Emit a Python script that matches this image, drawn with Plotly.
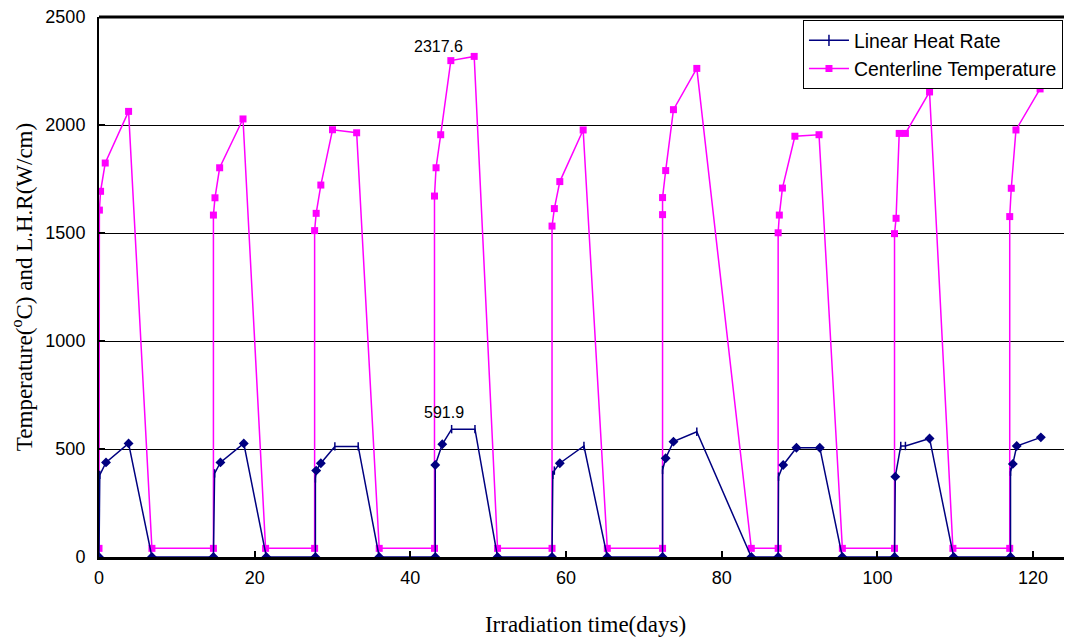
import plotly.graph_objects as go

# Centerline temperature (pink)
temp_days = [0, 0.05, 0.2, 0.8, 3.8, 6.8,
             14.7, 14.7, 14.9, 15.5, 18.5, 21.4,
             27.7, 27.7, 27.9, 28.5, 30.0, 33.1, 36.0,
             43.1, 43.1, 43.3, 43.9, 45.2, 48.2, 51.2,
             58.2, 58.2, 58.5, 59.2, 62.2, 65.3,
             72.4, 72.4, 72.4, 72.8, 73.8, 76.8, 83.8,
             87.25, 87.25, 87.4, 87.8, 89.4, 92.5, 95.5,
             102.2, 102.2, 102.4, 102.8, 103.6, 106.7, 109.7,
             117.0, 117.0, 117.2, 117.8, 120.9]
temp_vals = [40, 1606, 1693, 1824, 2063, 40,
             40, 1583, 1663, 1802, 2028, 40,
             40, 1511, 1591, 1722, 1978, 1964, 40,
             40, 1671, 1802, 1955, 2298, 2317.6, 40,
             40, 1532, 1613, 1738, 1977, 40,
             40, 1585, 1664, 1789, 2071, 2262, 40,
             40, 1501, 1583, 1708, 1948, 1955, 40,
             40, 1497, 1568, 1961, 1961, 2153, 40,
             40, 1576, 1707, 1977, 2167]

# Linear heat rate (navy)
lhr_days = [0, 0.1, 0.9, 3.8, 6.8,
            14.7, 14.85, 15.6, 18.6, 21.5,
            27.8, 27.8, 27.9, 28.5, 30.3, 33.3, 36.0,
            43.2, 43.2, 44.1, 45.3, 48.3, 51.2,
            58.2, 58.3, 58.5, 59.2, 62.3, 65.3,
            72.4, 72.4, 72.8, 73.8, 76.8, 83.8,
            87.25, 87.3, 87.9, 89.6, 92.6, 95.5,
            102.2, 102.3, 103.0, 103.6, 106.7, 109.8,
            117.1, 117.1, 117.4, 117.9, 121.0]
lhr_vals = [0, 380, 438, 526, 0,
            0, 387, 438, 526, 0,
            0, 364, 400, 434, 512, 512, 0,
            0, 426, 522, 591.9, 591.9, 0,
            0, 380, 400, 434, 514, 0,
            0, 403, 457, 534, 580, 0,
            0, 372, 426, 506, 506, 0,
            0, 372, 514, 514, 549, 0,
            0, 395, 431, 514, 554]
lhr_symbols = ["diamond", "line-ns", "diamond", "diamond", "diamond",
               "diamond", "line-ns", "diamond", "diamond", "diamond",
               "diamond", "line-ns", "diamond", "diamond", "line-ns", "line-ns", "diamond",
               "diamond", "diamond", "diamond", "line-ns", "line-ns", "diamond",
               "diamond", "line-ns", "line-ns", "diamond", "line-ns", "diamond",
               "diamond", "line-ns", "diamond", "diamond", "line-ns", "diamond",
               "diamond", "line-ns", "diamond", "diamond", "diamond", "diamond",
               "diamond", "diamond", "line-ns", "line-ns", "diamond", "diamond",
               "diamond", "line-ns", "diamond", "diamond", "diamond"]

x_ticks = [0, 20, 40, 60, 80, 100, 120]
y_ticks = [0, 500, 1000, 1500, 2000, 2500]

NAVY = "#000080"
PINK = "#FF00FF"
SANS = "Liberation Sans, Arial"
SERIF = "Liberation Serif, Times New Roman"

fig = go.Figure()

# legend entries
fig.add_trace(go.Scatter(x=[None], y=[None], mode="lines+markers", name="Linear Heat Rate",
                         line=dict(color=NAVY, width=1.5),
                         marker=dict(symbol="line-ns", size=8, line=dict(color=NAVY, width=1.5))))
fig.add_trace(go.Scatter(x=[None], y=[None], mode="lines+markers", name="Centerline Temperature",
                         line=dict(color=PINK, width=1.5),
                         marker=dict(symbol="square", size=7, color=PINK)))

fig.add_trace(go.Scatter(x=temp_days, y=temp_vals, mode="lines+markers", showlegend=False,
                         line=dict(color=PINK, width=1.5),
                         marker=dict(symbol="square", size=7, color=PINK)))
fig.add_trace(go.Scatter(x=lhr_days, y=lhr_vals, mode="lines+markers", showlegend=False,
                         line=dict(color=NAVY, width=1.5),
                         marker=dict(symbol=lhr_symbols, size=6, color=NAVY,
                                     line=dict(color=NAVY, width=1.5))))

fig.add_annotation(x=43.6, y=2362, text="2317.6", showarrow=False,
                   font=dict(family=SANS, size=16, color="black"))
fig.add_annotation(x=44.3, y=667, text="591.9", showarrow=False,
                   font=dict(family=SANS, size=16, color="black"))

# page body has an 8px margin: size the figure to fit the 1072x643 window
fig.update_layout(
    width=1064, height=635,
    margin=dict(l=91, r=0, t=9, b=86, autoexpand=False),
    paper_bgcolor="white", plot_bgcolor="white",
    font=dict(family=SANS, size=18, color="black"),
    legend=dict(x=0.7235, y=0.994, xanchor="left", yanchor="top",
                bgcolor="white", bordercolor="black", borderwidth=1,
                font=dict(family=SANS, size=19.4),
                tracegroupgap=0, itemwidth=40),
    xaxis=dict(range=[0, 125], tickvals=x_ticks, ticks="inside", ticklen=6, tickwidth=2,
               tickcolor="black", showline=True, linecolor="black", linewidth=3,
               showgrid=False, zeroline=False, mirror=False,
               tickfont=dict(family=SANS, size=18), ticklabelstandoff=2,
               ticklabeloverflow="allow",
               title=dict(text="Irradiation time(days)", standoff=30,
                          font=dict(family=SERIF, size=23))),
    yaxis=dict(range=[0, 2500], tickvals=y_ticks, ticks="inside", ticklen=6, tickwidth=2,
               tickcolor="black", showline=True, linecolor="black", linewidth=2,
               showgrid=True, gridcolor="black", gridwidth=1, zeroline=False,
               tickfont=dict(family=SANS, size=18), ticklabelstandoff=8,
               ticklabeloverflow="allow",
               title=dict(text="Temperature(<sup>o</sup>C) and L.H.R(W/cm)", standoff=15,
                          font=dict(family=SERIF, size=23))),
)
# top border line
fig.add_shape(type="line", xref="paper", yref="paper", x0=0, x1=1, y0=1, y1=1,
              line=dict(color="black", width=3))

fig.write_html("out.html")
